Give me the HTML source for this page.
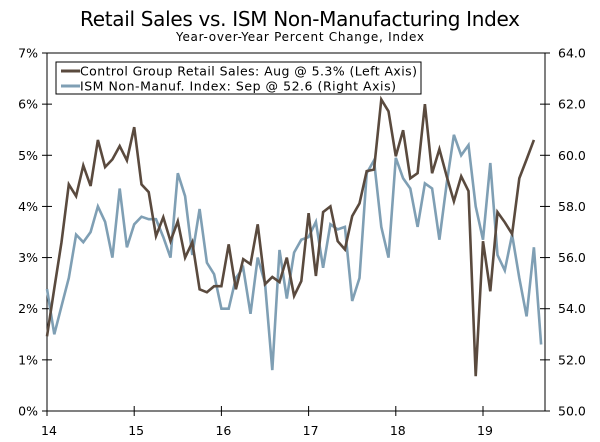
<!DOCTYPE html>
<html><head><meta charset="utf-8"><style>
html,body{margin:0;padding:0;background:#fff;}
svg{display:block;font-family:"DejaVu Sans","Liberation Sans",sans-serif;}
</style></head><body>
<svg id="chart" width="600" height="442" viewBox="0 0 600 442">
<rect x="0" y="0" width="600" height="442" fill="#fff"/>
<text x="300" y="26" text-anchor="middle" font-size="20" fill="#000" textLength="440">Retail Sales vs. ISM Non-Manufacturing Index</text>
<text x="300" y="41" text-anchor="middle" font-size="12" fill="#000" textLength="248">Year-over-Year Percent Change, Index</text>
<g id="axes"></g>
<g id="series"></g>
<g>
<rect x="56" y="62" width="365" height="32" fill="#fff" stroke="#000" stroke-width="1"/>
<line x1="61" y1="71" x2="80" y2="71" stroke="#5a4a3e" stroke-width="3"/>
<text x="80" y="75.5" font-size="12.5" textLength="337">Control Group Retail Sales: Aug @ 5.3% (Left Axis)</text>
<line x1="61" y1="86" x2="80" y2="86" stroke="#7f9fb4" stroke-width="3"/>
<text x="80" y="90.5" font-size="12.5" textLength="316">ISM Non-Manuf. Index: Sep @ 52.6 (Right Axis)</text>
</g>
</svg>
<script>
const retail = [1.46,2.4,3.3,4.43,4.2,4.8,4.4,5.3,4.77,4.92,5.18,4.9,5.55,4.43,4.28,3.42,3.79,3.32,3.71,3.0,3.3,2.38,2.32,2.44,2.44,3.26,2.38,2.97,2.87,3.65,2.48,2.62,2.52,3.0,2.25,2.54,3.87,2.64,3.89,4.0,3.32,3.16,3.81,4.06,4.69,4.72,6.09,5.86,4.98,5.49,4.55,4.65,6.0,4.65,5.12,4.59,4.1,4.59,4.3,0.68,3.32,2.34,3.89,3.69,3.46,4.55,4.92,5.3];
const ism = [54.77,53.0,54.1,55.2,56.9,56.6,57.0,58.0,57.4,56.0,58.7,56.4,57.3,57.6,57.5,57.5,56.8,56.0,59.3,58.4,56.1,57.9,55.8,55.35,54.0,54.0,55.2,55.6,53.8,56.0,55.0,51.6,56.3,54.4,56.2,56.7,56.8,57.4,55.6,57.3,57.1,57.2,54.3,55.2,59.3,59.8,57.2,56.0,59.9,59.1,58.7,57.2,58.9,58.7,56.7,58.9,60.8,60.0,60.4,58.0,56.7,59.7,56.1,55.5,56.9,55.2,53.7,56.4,52.6];
const leftTicks = ["0%","1%","2%","3%","4%","5%","6%","7%"];
const rightTicks = ["50.0","52.0","54.0","56.0","58.0","60.0","62.0","64.0"];
const yearLabels = ["14","15","16","17","18","19"];

const NS="http://www.w3.org/2000/svg";
const X0=47, XR=545, YT=53, YB=411, MONTH=87.2/12;
const xm = i => X0 + i*MONTH;
const yl = v => YB - v/7*(YB-YT);
const yr = v => YB - (v-50)/14*(YB-YT);
function mk(tag, attrs, parent){const e=document.createElementNS(NS,tag);for(const k in attrs)e.setAttribute(k,attrs[k]);parent.appendChild(e);return e;}
const ax=document.getElementById('axes'), se=document.getElementById('series');

let l=mk('line',{x1:X0,y1:YT,x2:X0,y2:YB,stroke:'#000','stroke-width':1},ax);


l=mk('line',{x1:XR,y1:YT,x2:XR,y2:YB,stroke:'#000','stroke-width':1},ax);


l=mk('line',{x1:X0,y1:YT,x2:XR,y2:YT,stroke:'#000','stroke-width':1},ax);


l=mk('line',{x1:X0,y1:YB,x2:XR,y2:YB,stroke:'#000','stroke-width':1},ax);



leftTicks.forEach((t,i)=>{
  const y=yl(i);
  const tk=mk('line',{x1:X0-5,y1:y,x2:X0+5,y2:y,stroke:'#000'},ax);
  
  
  const tx=mk('text',{x:X0-9,y:y+4.5,'text-anchor':'end','font-size':12.5},ax);
  tx.textContent=t;
  
  
});
rightTicks.forEach((t,i)=>{
  const y=yr(parseFloat(t));
  const tk=mk('line',{x1:XR-5,y1:y,x2:XR+5,y2:y,stroke:'#000'},ax);
  
  
  const tx=mk('text',{x:XR+13,y:y+4.5,'font-size':12.5},ax);
  tx.textContent=t;
  
  
});
yearLabels.forEach((t,i)=>{
  const x=xm(i*12);
  const tk=mk('line',{x1:x,y1:YB-5,x2:x,y2:YB+5,stroke:'#000'},ax);
  
  
  const tx=mk('text',{x:x+2,y:YB+24,'text-anchor':'middle','font-size':12.5},ax);
  tx.textContent=t;
  
  
});

const pI=mk('polyline',{points:ism.map((v,i)=>xm(i).toFixed(1)+','+yr(v).toFixed(1)).join(' '),fill:'none',stroke:'#7f9fb4','stroke-width':2.6,'stroke-linejoin':'miter'},se);


const pR=mk('polyline',{points:retail.map((v,i)=>xm(i).toFixed(1)+','+yl(v).toFixed(1)).join(' '),fill:'none',stroke:'#5a4a3e','stroke-width':2.6,'stroke-linejoin':'miter'},se);


</script>
</body></html>
